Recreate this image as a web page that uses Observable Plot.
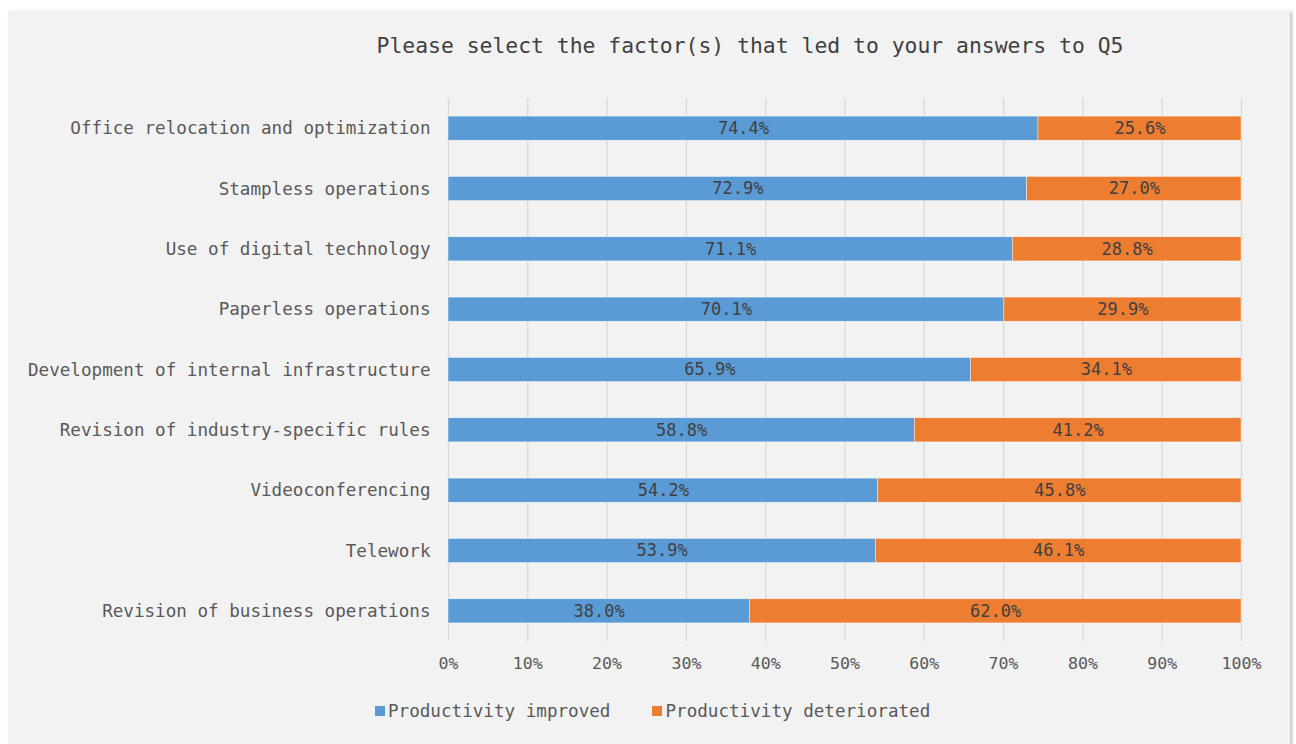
<!DOCTYPE html>
<html>
<head>
<meta charset="utf-8">
<script src="https://cdn.jsdelivr.net/npm/d3@7"></script>
<script src="https://cdn.jsdelivr.net/npm/@observablehq/plot@0.6"></script>
<style>
  html, body { margin: 0; padding: 0; background: #ffffff; }
  #panel { position: absolute; left: 8px; top: 11px; width: 1282px; height: 740px; background: #f2f2f2;
           box-shadow: 2px 1px 3px rgba(0,0,0,0.25); font-family: "DejaVu Sans Mono", monospace; }
  #title { position: absolute; top: 22px; left: 142px; width: 1200px; text-align: center; font-size: 21.4px;
           line-height: 26px; color: #404040; }
  #chart { position: absolute; top: 69px; left: 0; }
  #legend { position: absolute; top: 689px; left: 367px; display: flex; align-items: center; font-size: 17.6px;
            line-height: 22px; color: #595959; }
  .item { display: flex; align-items: center; margin-right: 42px; }
  .sw { width: 10px; height: 10px; margin-right: 3px; }
</style>
</head>
<body>
<div id="panel">
  <div id="title">Please select the factor(s) that led to your answers to Q5</div>
  <div id="chart"></div>
  <div id="legend"></div>
</div>
<script>
const categories = [
  "Office relocation and optimization",
  "Stampless operations",
  "Use of digital technology",
  "Paperless operations",
  "Development of internal infrastructure",
  "Revision of industry-specific rules",
  "Videoconferencing",
  "Telework",
  "Revision of business operations"
];
const improved = [74.4, 72.9, 71.1, 70.1, 65.9, 58.8, 54.2, 53.9, 38.0];
const deteriorated = [25.6, 27.0, 28.8, 29.9, 34.1, 41.2, 45.8, 46.1, 62.0];
const seriesNames = ["Productivity improved", "Productivity deteriorated"];
const seriesColors = ["#5B9BD5", "#ED7D31"];
const tickValues = [0, 10, 20, 30, 40, 50, 60, 70, 80, 90, 100];

const rows = categories.flatMap((c, i) => [
  {cat: c, series: seriesNames[0], value: improved[i]},
  {cat: c, series: seriesNames[1], value: deteriorated[i]}
]);

const ticks = tickValues.map(t => t / 100);

const chart = Plot.plot({
  width: 1282,
  height: 610,
  marginLeft: 440,
  marginRight: 49,
  marginTop: 18,
  marginBottom: 49,
  style: {background: "transparent", fontFamily: "DejaVu Sans Mono, monospace", color: "#595959", overflow: "visible"},
  x: {domain: [0, 1], label: null},
  y: {type: "band", domain: categories, paddingInner: 0.6, paddingOuter: 0.3, round: false, label: null},
  color: {domain: seriesNames, range: seriesColors},
  marks: [
    Plot.gridX(ticks, {stroke: "#d9d9d9", strokeOpacity: 1, strokeWidth: 1.3}),
    Plot.barX(rows, Plot.stackX({offset: "normalize", x: "value", y: "cat", fill: "series",
      stroke: "#ffffff", strokeWidth: 0.6, strokeOpacity: 0.7})),
    Plot.textX(rows, Plot.stackX({offset: "normalize", x: "value", y: "cat",
      text: d => d.value.toFixed(1) + "%", fill: "#404040", fontSize: 17})),
    Plot.axisX(ticks, {tickSize: 0, tickPadding: 16, fontSize: 16.6, fill: "#595959", label: null,
      tickFormat: d => Math.round(d * 100) + "%"}),
    Plot.axisY({tickSize: 0, tickPadding: 18, fontSize: 17.6, fill: "#595959", label: null})
  ]
});
document.getElementById("chart").appendChild(chart);

const legend = document.getElementById("legend");
seriesNames.forEach((name, i) => {
  const item = document.createElement("div");
  item.className = "item";
  const sw = document.createElement("span");
  sw.className = "sw";
  sw.style.background = seriesColors[i];
  const label = document.createElement("span");
  label.textContent = name;
  item.appendChild(sw);
  item.appendChild(label);
  legend.appendChild(item);
});
</script>
</body>
</html>
